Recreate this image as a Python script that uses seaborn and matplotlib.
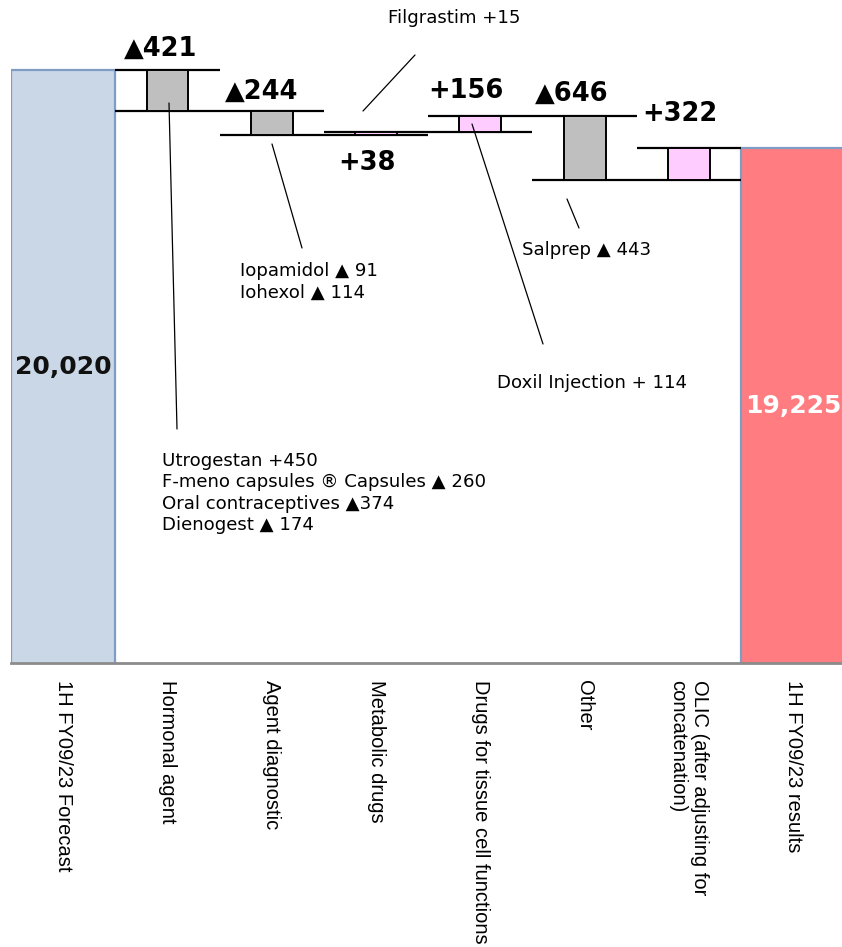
import numpy as np
import pandas as pd
import matplotlib
matplotlib.use("Agg")
import matplotlib.pyplot as plt
import seaborn as sns
from matplotlib.lines import Line2D

# ---- data -------------------------------------------------------------
categories = [
    "1H FY09/23 Forecast",
    "Hormonal agent",
    "Agent diagnostic",
    "Metabolic drugs",
    "Drugs for tissue cell functions",
    "Other",
    "OLIC (after adjusting for\nconcatenation)",
    "1H FY09/23 results",
]
start_total = 20020
end_total = 19225
changes = [-421, -244, 38, 156, -646, 322]
change_labels = ["▲421", "▲244", "+38", "+156", "▲646", "+322"]
total_labels = ["20,020", "19,225"]

notes = [
    "Utrogestan +450\nF-meno capsules ® Capsules ▲ 260\nOral contraceptives ▲374\nDienogest ▲ 174",
    "Iopamidol ▲ 91\nIohexol ▲ 114",
    "Filgrastim +15",
    "Doxil Injection + 114",
    "Salprep ▲ 443",
]

# ---- style ------------------------------------------------------------
sns.set_style("white")
plt.rcParams["font.family"] = ["DejaVu Sans"]
plt.rcParams["text.color"] = "black"
plt.rcParams["xtick.color"] = "black"

W, H = 842, 947
fig = plt.figure(figsize=(W / 100, H / 100), dpi=100)

col_w = 104.3
ax = fig.add_axes([11 / W, (H - 663) / H, 8 * col_w / W, 663 / H])

def fx(x):
    return x / W

def fy(y):
    return (H - y) / H

# ---- totals (seaborn bars) ---------------------------------------------
totals = pd.DataFrame({"item": [categories[0], categories[-1]],
                       "value": [start_total, end_total]})
sns.barplot(data=totals, x="item", y="value", order=categories,
            hue="item", palette={categories[0]: "#CAD7E6", categories[-1]: "#FF7C80"},
            saturation=1, width=1.0, edgecolor="#7F9DC4", linewidth=1.6,
            errorbar=None, legend=False, ax=ax)

y_low, y_high = 13976, 20734
ax.set_ylim(y_low, y_high)
ax.set_xlim(-0.5, 7.5)

# ---- floating change boxes ---------------------------------------------
levels = start_total + np.cumsum(changes)
before = levels - np.array(changes)
xs = np.arange(1, len(changes) + 1)
box_bottom = np.minimum(before, levels)
box_height = np.abs(changes)
box_colors = ["#BFBFBF" if c < 0 else "#FFCCFF" for c in changes]
ax.bar(xs, box_height, bottom=box_bottom, width=0.4, color=box_colors,
       edgecolor="black", linewidth=1.4, zorder=3)
for x, b, a in zip(xs, before, levels):
    ax.hlines([b, a], x - 0.5, x + 0.5, color="black", linewidth=1.6, zorder=2)

# value labels above/below the boxes (pixel offsets)
label_offsets = [(-7, 21, "top"), (-10, 20, "top"), (-9, -28, "bottom"),
                 (-14, 25, "top"), (-13, 22, "top"), (-9, 34, "top")]
for x, b, a, lab, (dx, dy, where) in zip(xs, before, levels, change_labels, label_offsets):
    yref = max(b, a) if where == "top" else min(b, a)
    ax.annotate(lab, (x, yref), xytext=(dx, dy), textcoords="offset pixels",
                ha="center", va="center", fontsize=18.5, fontweight="bold",
                color="black", annotation_clip=False)

# total labels in the middle of the visible bar
for x, v, lab, c in zip([0, 7], [start_total, end_total], total_labels, ["#111111", "white"]):
    ax.text(x, (y_low + v) / 2, lab, ha="center", va="center",
            fontsize=18, fontweight="bold", color=c, zorder=5)

# ---- axis styling ------------------------------------------------------
for s in ["top", "right", "left"]:
    ax.spines[s].set_visible(False)
ax.spines["bottom"].set_color("#8C8C8C")
ax.spines["bottom"].set_linewidth(2)
ax.set_yticks([])
ax.set_xlabel("")
ax.set_ylabel("")
ax.set_xticks(np.arange(-0.5, 8.0, 1.0))
ax.set_xticklabels([])
ax.tick_params(axis="x", which="major", length=7, width=1.6, color="#8C8C8C", direction="out")
ax.set_xticks(np.arange(8), minor=True)
ax.set_xticklabels(categories, minor=True, rotation=270, ha="center", va="top",
                   multialignment="left", fontsize=14.5, family="Liberation Sans",
                   color="black")
ax.tick_params(axis="x", which="minor", length=0, pad=12)

# ---- breakdown notes with leader lines ---------------------------------
note_pos = [(162, 493, 1.25), (240, 282, 1.3), (388, 18, 1.2), (497, 383, 1.2), (522, 250, 1.2)]
for txt, (px, py, ls) in zip(notes, note_pos):
    fig.text(fx(px), fy(py), txt, ha="left", va="center", fontsize=13.1,
             linespacing=ls, color="black")

leaders = [((169, 103), (177, 429)),
           ((272, 144), (302, 248)),
           ((415, 55), (363, 111)),
           ((472, 124), (543, 344)),
           ((567, 199), (579, 228))]
for (x0, y0), (x1, y1) in leaders:
    fig.add_artist(Line2D([fx(x0), fx(x1)], [fy(y0), fy(y1)], color="black",
                          linewidth=0.9, zorder=6))

fig.savefig("out.png", dpi=100)
